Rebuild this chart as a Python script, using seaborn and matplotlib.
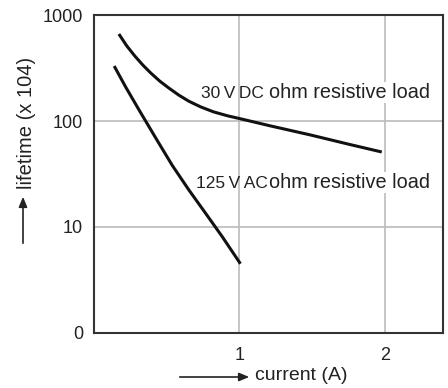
import numpy as np
import pandas as pd
import matplotlib
matplotlib.use("Agg")
import matplotlib.pyplot as plt
import seaborn as sns

# values (current in A, lifetime in x 10^4)
dc_current = [0.171, 0.226, 0.281, 0.336, 0.390, 0.452, 0.514, 0.582, 0.651,
              0.733, 0.822, 0.918, 1.007, 1.212, 1.486, 1.760, 1.979]
dc_lifetime = [662, 510, 410, 337, 284, 238, 205, 176, 154,
               136, 122, 112, 105, 90, 74, 60, 51]
ac_current = [0.139, 0.219, 0.310, 0.425, 0.539, 0.653, 0.767, 0.882, 1.007]
ac_lifetime = [330, 208, 127, 69, 38, 22.3, 13.5, 8.1, 4.5]

x_ticks = [1, 2]
x_tick_labels = ["1", "2"]
y_ticks = [1, 10, 100, 1000]
y_tick_labels = ["0", "10", "100", "1000"]

df = pd.concat([
    pd.DataFrame({"current": dc_current, "lifetime": dc_lifetime, "load": "dc"}),
    pd.DataFrame({"current": ac_current, "lifetime": ac_lifetime, "load": "ac"}),
])

sns.set_theme(style="white")
plt.rcParams["font.family"] = ["Liberation Sans", "DejaVu Sans"]

fig = plt.figure(figsize=(4.48, 3.88), dpi=100)
ax = fig.add_axes([0.2098, 0.1418, 0.779, 0.8195])

sns.lineplot(data=df, x="current", y="lifetime", hue="load", units="load",
             estimator=None, sort=False, palette={"dc": "#111111", "ac": "#111111"},
             linewidth=2.2, legend=False, ax=ax, zorder=3)
for line in ax.lines:
    line.set_solid_capstyle("butt")
    line.set_solid_joinstyle("round")

ax.set_yscale("log")
ax.set_xlim(0, 2.4)
ax.set_ylim(1, 1000)
ax.set_xticks(x_ticks)
ax.set_xticklabels(x_tick_labels)
ax.set_yticks(y_ticks)
ax.set_yticklabels(y_tick_labels)
ax.minorticks_off()
ax.tick_params(length=0, labelsize=13, colors="#222222", pad=8)
ax.tick_params(axis="x", pad=10)
ax.set_xlabel("")
ax.set_ylabel("")

ax.grid(True, which="major", color="#bbbbbb", linewidth=1.2)
for s in ax.spines.values():
    s.set_color("#333333")
    s.set_linewidth(1.5)

# curve labels
txt = dict(color="#222222", va="baseline", zorder=4)
ax.text(0.733, 165, "30\u2009V\u2009DC", fontsize=12.5, **txt)
ax.text(1.205, 165, "ohm resistive load", fontsize=14.3,
        bbox=dict(facecolor="white", edgecolor="none", pad=1), **txt)
ax.text(0.699, 23.3, "125\u2009V\u2009AC", fontsize=12.5, **txt)
ax.text(1.205, 23.3, "ohm resistive load", fontsize=14.3,
        bbox=dict(facecolor="white", edgecolor="none", pad=1), **txt)

# axis labels with arrows
fig.text(255 / 448, 1 - 375 / 388, "current (A)", fontsize=14, color="#222222",
         ha="left", va="center")
fig.add_artist(matplotlib.patches.FancyArrowPatch(
    (177 / 448, 1 - 377 / 388), (252 / 448, 1 - 377 / 388), transform=fig.transFigure,
    arrowstyle="-|>,head_length=6,head_width=2.5", color="#222222", linewidth=1.2))

fig.text(26 / 448, 1 - 123 / 388, "lifetime (x 104)", fontsize=14.5, color="#222222",
         rotation=90, ha="center", va="center")
fig.add_artist(matplotlib.patches.FancyArrowPatch(
    (23 / 448, 1 - 246 / 388), (23 / 448, 1 - 194 / 388), transform=fig.transFigure,
    arrowstyle="-|>,head_length=6,head_width=2.5", color="#222222", linewidth=1.2))

fig.savefig("out.png", dpi=100)
